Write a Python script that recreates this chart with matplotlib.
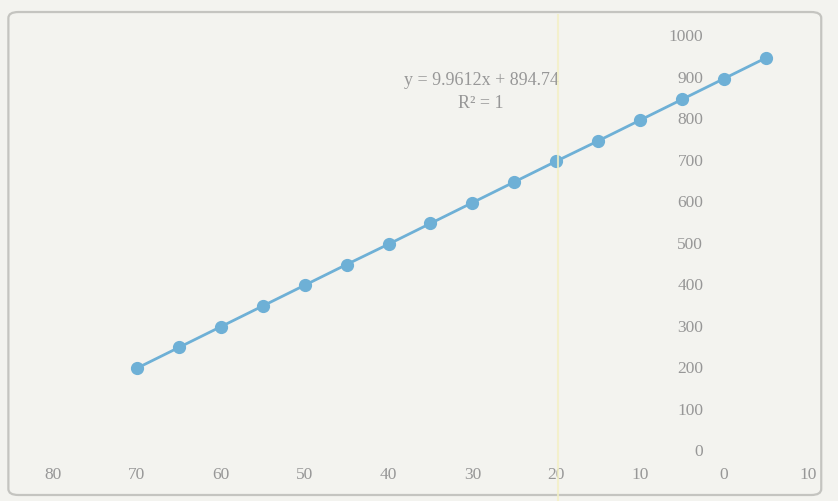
import matplotlib.pyplot as plt
from matplotlib.patches import FancyBboxPatch
from matplotlib.ticker import FuncFormatter

# Measured series
x_vals = [-70, -65, -60, -55, -50, -45, -40, -35, -30, -25, -20, -15, -10, -5, 0, 5]
y_vals = [197, 247, 297, 347, 397, 447, 496, 546, 596, 646, 696, 745, 795, 845, 895, 945]
x_ticks = [-80, -70, -60, -50, -40, -30, -20, -10, 0, 10]
y_ticks = [0, 100, 200, 300, 400, 500, 600, 700, 800, 900, 1000]
trend_label = "y = 9.9612x + 894.74"
r2_label = "R² = 1"

bg = "#f3f3ef"
text_col = "#979797"
line_col = "#6eb0d6"

plt.rcParams['font.family'] = ['Liberation Serif', 'DejaVu Serif']

fig = plt.figure(figsize=(8.38, 5.01), dpi=100, facecolor=bg)

# chart frame
frame = FancyBboxPatch((0.010, 0.012), 0.970, 0.964, boxstyle="round,pad=0,rounding_size=0.012",
                       transform=fig.transFigure, facecolor="none", edgecolor="#c4c4c0", lw=1.6)
fig.patches.append(frame)
fig.add_artist(plt.Line2D([0.666, 0.666], [0.0, 0.97], transform=fig.transFigure,
                          color="#f3f0c4", lw=1.5, alpha=0.8))

ax = fig.add_axes([0.0632, 0.1018, 0.9010, 0.8283])
ax.set_facecolor("none")
ax.set_xlim(-80, 10)
ax.set_ylim(0, 1000)

ax.plot(x_vals, y_vals, color=line_col, lw=2.0, marker='o', ms=8.5,
        markerfacecolor=line_col, markeredgecolor=line_col, zorder=3)

for s in ['top', 'right', 'bottom']:
    ax.spines[s].set_visible(False)
ax.spines['left'].set_position(('data', 0))
ax.spines['left'].set_color('none')

ax.set_xticks(x_ticks)
ax.set_yticks(y_ticks)
ax.xaxis.set_major_formatter(FuncFormatter(lambda v, p: f"{abs(int(round(v)))}"))
ax.tick_params(axis='x', length=0, pad=12, labelsize=12.5, labelcolor=text_col)
ax.tick_params(axis='y', length=0, pad=15, labelsize=12.5, labelcolor=text_col)

ax.text(-28.9, 891, trend_label, ha='center', va='center', fontsize=13, color=text_col)
ax.text(-29.0, 836, r2_label, ha='center', va='center', fontsize=13, color=text_col)

fig.savefig("out.png", dpi=100, facecolor=bg)
